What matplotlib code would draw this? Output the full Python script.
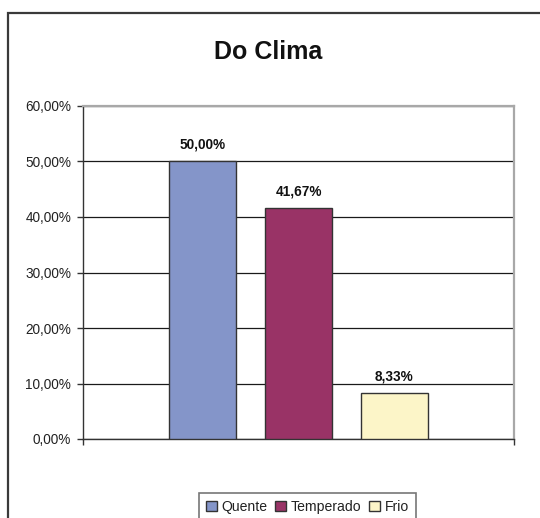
import numpy as np
import matplotlib
matplotlib.use("Agg")
import matplotlib.pyplot as plt
from matplotlib.patches import Rectangle
from matplotlib.ticker import FuncFormatter

# dados do gráfico
categorias = ['Quente', 'Temperado', 'Frio']
valores = [50.00, 41.67, 8.33]
cores = ['#8495C9', '#993366', '#FCF5C8']
titulo = 'Do Clima'
y_ticks = [0, 10, 20, 30, 40, 50, 60]

plt.rcParams['font.family'] = ['Liberation Sans', 'DejaVu Sans']

fig = plt.figure(figsize=(5.4, 5.18), dpi=100)
ax = fig.add_axes([83/540, 1-439/518, (514-83)/540, (439-106)/518])

# moldura externa do gráfico (cortada à direita e em baixo)
fig.patches.append(Rectangle((8/540, -0.1), 1.2, 1.1 - 13.5/518,
                             transform=fig.transFigure, fill=False,
                             edgecolor='#3a3a3a', linewidth=1.6, zorder=0))

x = np.arange(len(categorias))
largura = 0.708

ax.set_axisbelow(True)
ax.yaxis.grid(True, color='#1a1a1a', linewidth=0.9)
barras = ax.bar(x, valores, width=largura, color=cores,
                edgecolor='#333333', linewidth=1.0, label=categorias, zorder=3)

for b, v in zip(barras, valores):
    txt = f'{v:.2f}%'.replace('.', ',')
    ax.annotate(txt, (b.get_x() + b.get_width()/2, v), xytext=(0, 12),
                textcoords='offset points', ha='center', va='center',
                fontsize=9.8, fontweight='bold', color='#111111')

ax.set_ylim(0, 60)
ax.set_yticks(y_ticks)
ax.yaxis.set_major_formatter(FuncFormatter(lambda v, p: f'{v:.2f}%'.replace('.', ',')))
ax.set_xlim(-1.245, 3.245)
ax.set_xticks([-1.245, 3.245])
ax.set_xticklabels(['', ''])

ax.tick_params(axis='y', direction='out', length=4, width=1, color='#333333',
               labelsize=9.8, labelcolor='#222222', pad=4.5)
ax.tick_params(axis='x', direction='out', length=4, width=1, color='#333333')

for lado in ['left', 'bottom']:
    ax.spines[lado].set_color('#333333')
    ax.spines[lado].set_linewidth(1.0)
for lado in ['top', 'right']:
    ax.spines[lado].set_color('#a8a8a8')
    ax.spines[lado].set_linewidth(1.6)

fig.text(268.5/540, 1-52/518, titulo, ha='center', va='center',
         fontsize=18, fontweight='bold', color='#111111')

leg = fig.legend(handles=barras.patches, labels=categorias, ncol=3,
                 loc='upper center', bbox_to_anchor=(307.5/540, 1-493/518),
                 fontsize=10.1, frameon=True, fancybox=False,
                 handlelength=0.75, handleheight=0.75, handletextpad=0.35,
                 columnspacing=0.55, borderpad=0.5, borderaxespad=0)
leg.get_frame().set_edgecolor('#555555')
leg.get_frame().set_linewidth(1.2)
for t in leg.get_texts():
    t.set_color('#222222')

fig.savefig('out.png', dpi=100)
